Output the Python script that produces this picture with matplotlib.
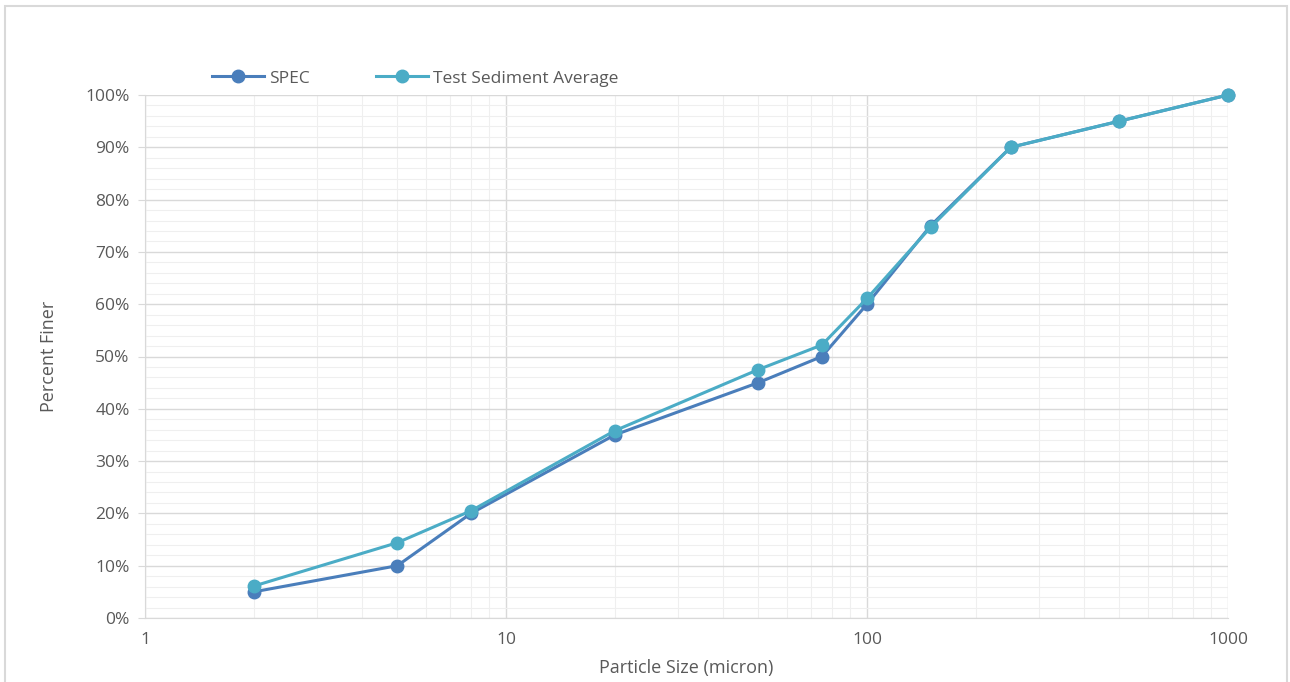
import matplotlib.pyplot as plt
from matplotlib.patches import Rectangle
from matplotlib.ticker import FuncFormatter, FixedLocator, LogLocator, MultipleLocator

# particle size (micron) and percent finer
sizes = [2, 5, 8, 20, 50, 75, 100, 150, 250, 500, 1000]
spec = [5, 10, 20, 35, 45, 50, 60, 75, 90, 95, 100]
test_avg = [6.1, 14.4, 20.5, 35.8, 47.5, 52.2, 61.1, 74.7, 90, 95, 100]

SPEC_COLOR = '#4a7ebb'
TEST_COLOR = '#4bacc6'
TEXT_COLOR = '#595959'

plt.rcParams['font.family'] = ['Open Sans', 'DejaVu Sans']

fig = plt.figure(figsize=(12.9, 6.82), dpi=100)
ax = fig.add_axes([145/1290, 1 - 618/682, (1228 - 145)/1290, (618 - 95)/682])

# outer chart border
fig.patches.append(Rectangle((5/1290, -0.01), 1282/1290, 1.01 - 6/682,
                             transform=fig.transFigure, fill=False,
                             edgecolor='#d9d9d9', linewidth=1.5))

ax.plot(sizes, spec, color=SPEC_COLOR, lw=2.2, marker='o', ms=9, label='SPEC',
        zorder=3, clip_on=False)
ax.plot(sizes, test_avg, color=TEST_COLOR, lw=2.2, marker='o', ms=9,
        label='Test Sediment Average', zorder=4, clip_on=False)

ax.set_xscale('log')
ax.set_xlim(1, 1000)
ax.set_ylim(0, 100)
ax.xaxis.set_major_locator(FixedLocator([1, 10, 100, 1000]))
ax.xaxis.set_minor_locator(LogLocator(base=10, subs=range(2, 10)))
ax.xaxis.set_major_formatter(FuncFormatter(lambda v, p: f'{v:g}'))
ax.xaxis.set_minor_formatter(FuncFormatter(lambda v, p: ''))
ax.yaxis.set_major_locator(MultipleLocator(10))
ax.yaxis.set_minor_locator(MultipleLocator(2))
ax.yaxis.set_major_formatter(FuncFormatter(lambda v, p: f'{v:.0f}%'))

ax.grid(which='major', color='#d9d9d9', lw=1)
ax.grid(which='minor', color='#efefef', lw=0.8)
ax.set_axisbelow(True)

for s in ['top', 'right']:
    ax.spines[s].set_visible(False)
ax.spines['left'].set_color('#d9d9d9')
ax.spines['bottom'].set_color('#d9d9d9')
ax.tick_params(which='both', colors='#d9d9d9', labelcolor=TEXT_COLOR, labelsize=12.5)
ax.tick_params(which='minor', length=0)
ax.tick_params(axis='x', which='major', length=0, pad=10)
ax.tick_params(axis='y', which='major', length=5, pad=6)

ax.set_xlabel('Particle Size (micron)', color=TEXT_COLOR, fontsize=13, labelpad=8)
ax.set_ylabel('Percent Finer', color=TEXT_COLOR, fontsize=13, labelpad=20)

fig.legend(loc='center left', bbox_to_anchor=(0.152, 0.885), ncol=2, frameon=False,
           fontsize=12.5, labelcolor=TEXT_COLOR, handlelength=3, columnspacing=3.8,
           handletextpad=0.3)

fig.savefig('out.png', dpi=100)
